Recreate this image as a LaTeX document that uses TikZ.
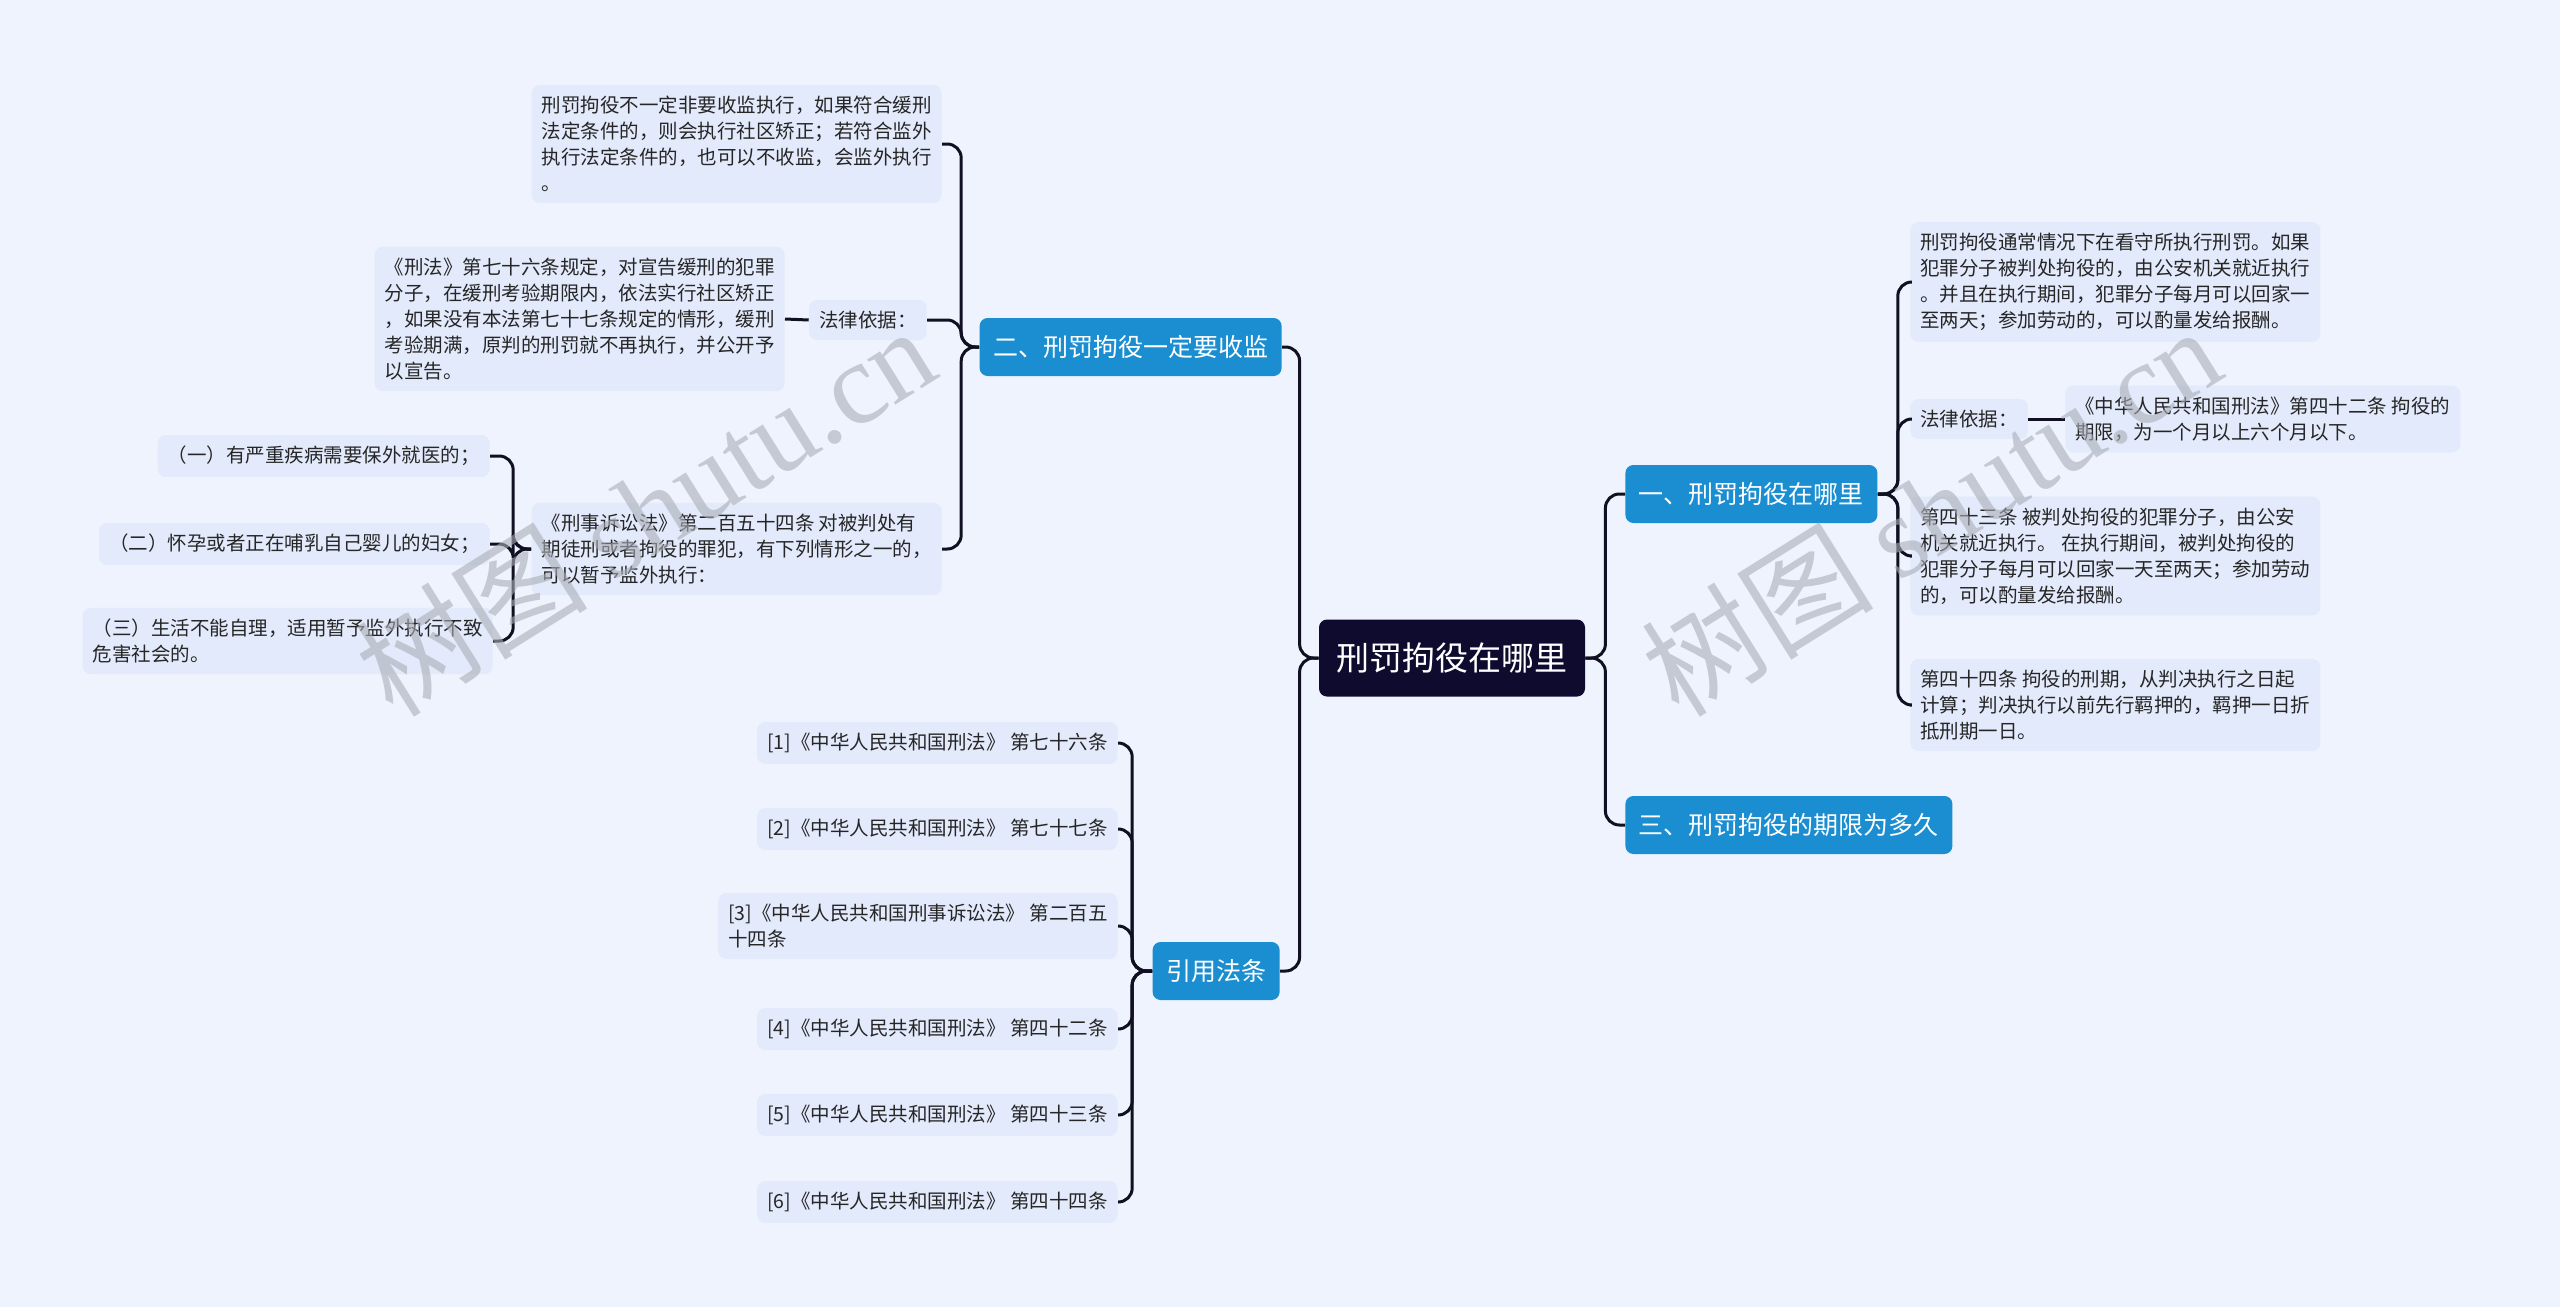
\documentclass[tikz,border=0pt]{standalone}
\usepackage{fontspec}
\setmainfont{Noto Sans CJK SC}
\newfontfamily\wmlatin{Liberation Serif}
\usetikzlibrary{positioning}
\definecolor{bgc}{RGB}{238,243,253}
\definecolor{leafc}{RGB}{226,234,251}
\definecolor{bluec}{RGB}{27,142,210}
\definecolor{rootc}{RGB}{14,11,46}
\definecolor{linec}{RGB}{16,16,34}
\definecolor{wmc}{RGB}{170,173,183}
\tikzset{
  leaf/.style={fill=leafc, rounded corners=4pt, align=left, inner xsep=5pt, inner ysep=5.5pt,
    font=\fontsize{9.75}{13}\selectfont, text=black!85},
  branch/.style={fill=bluec, rounded corners=4pt, text=white, inner xsep=6.75pt, minimum height=29pt,
    font=\fontsize{12.5}{15}\selectfont},
  rootnode/.style={fill=rootc, rounded corners=4pt, text=white, minimum width=133pt, minimum height=38.5pt,
    font=\fontsize{16.5}{19}\selectfont},
  conn/.style={draw=linec, line width=1.5pt, rounded corners=7pt},
  wm/.style={text=wmc, opacity=0.6, rotate=32, font=\fontsize{58}{58}\selectfont}
}
\begin{document}
\begin{tikzpicture}[x=0.5pt,y=-0.5pt]
\useasboundingbox (0,0) rectangle (2560,1307);
\fill[bgc] (0,0) rectangle (2560,1307);

% root
\node[rootnode] (root) at (1452,658) {刑罚拘役在哪里};

% branches
\node[branch, anchor=east] (n2) at (1282,347) {二、刑罚拘役一定要收监};
\node[branch, anchor=east] (ny) at (1280,971) {引用法条};
\node[branch, anchor=west] (n1) at (1625,494) {一、刑罚拘役在哪里};
\node[branch, anchor=west] (n3) at (1625,825) {三、刑罚拘役的期限为多久};

% right side children of n1
\node[leaf, anchor=west] (r1) at (1910,282) {刑罚拘役通常情况下在看守所执行刑罚。如果\\犯罪分子被判处拘役的，由公安机关就近执行\\。并且在执行期间，犯罪分子每月可以回家一\\至两天；参加劳动的，可以酌量发给报酬。};
\node[leaf, anchor=west] (r2) at (1910,419) {法律依据：};
\node[leaf, anchor=west] (r2a) at (2065,419) {《中华人民共和国刑法》第四十二条 拘役的\\期限，为一个月以上六个月以下。};
\node[leaf, anchor=west] (r3) at (1910,556) {第四十三条 被判处拘役的犯罪分子，由公安\\机关就近执行。 在执行期间，被判处拘役的\\犯罪分子每月可以回家一天至两天；参加劳动\\的，可以酌量发给报酬。};
\node[leaf, anchor=west] (r4) at (1910,705) {第四十四条 拘役的刑期，从判决执行之日起\\计算；判决执行以前先行羁押的，羁押一日折\\抵刑期一日。};

% left side children of n2
\node[leaf, anchor=east] (l1) at (942,144) {刑罚拘役不一定非要收监执行，如果符合缓刑\\法定条件的，则会执行社区矫正；若符合监外\\执行法定条件的，也可以不收监，会监外执行\\。};
\node[leaf, anchor=east] (l2) at (927,320) {法律依据：};
\node[leaf, anchor=east] (l2a) at (785,319) {《刑法》第七十六条规定，对宣告缓刑的犯罪\\分子，在缓刑考验期限内，依法实行社区矫正\\，如果没有本法第七十七条规定的情形，缓刑\\考验期满，原判的刑罚就不再执行，并公开予\\以宣告。};
\node[leaf, anchor=east] (l3) at (942,549) {《刑事诉讼法》第二百五十四条 对被判处有\\期徒刑或者拘役的罪犯，有下列情形之一的，\\可以暂予监外执行：};
\node[leaf, anchor=east] (l3a) at (490,456) {（一）有严重疾病需要保外就医的；};
\node[leaf, anchor=east] (l3b) at (490,544) {（二）怀孕或者正在哺乳自己婴儿的妇女；};
\node[leaf, anchor=east] (l3c) at (493,641) {（三）生活不能自理，适用暂予监外执行不致\\危害社会的。};

% children of 引用法条
\node[leaf, anchor=east] (c1) at (1118,743) {[1]《中华人民共和国刑法》 第七十六条};
\node[leaf, anchor=east] (c2) at (1118,829) {[2]《中华人民共和国刑法》 第七十七条};
\node[leaf, anchor=east] (c3) at (1118,926) {[3]《中华人民共和国刑事诉讼法》 第二百五\\十四条};
\node[leaf, anchor=east] (c4) at (1118,1029) {[4]《中华人民共和国刑法》 第四十二条};
\node[leaf, anchor=east] (c5) at (1118,1115) {[5]《中华人民共和国刑法》 第四十三条};
\node[leaf, anchor=east] (c6) at (1118,1202) {[6]《中华人民共和国刑法》 第四十四条};

% connectors: root
\draw[conn] (root.west) -- ++(-19,0) |- (n2.east);
\draw[conn] (root.west) -- ++(-19,0) |- (ny.east);
\draw[conn] (root.east) -- ++(20,0) |- (n1.west);
\draw[conn] (root.east) -- ++(20,0) |- (n3.west);

% n1 children
\foreach \c in {r1,r2,r3,r4}{
  \draw[conn] (n1.east) -- ++(20,0) |- (\c.west);
}
\draw[conn] (r2.east) -- (r2a.west);

% n2 children
\foreach \c in {l1,l2,l3}{
  \draw[conn] (n2.west) -- ++(-18,0) |- (\c.east);
}
\draw[conn] (l2.west) -- (l2a.east);
\foreach \c in {l3a,l3b,l3c}{
  \draw[conn] (l3.west) -- ++(-18,0) |- (\c.east);
}

% 引用法条 children
\foreach \c in {c1,c2,c3,c4,c5,c6}{
  \draw[conn] (ny.west) -- ++(-20,0) |- (\c.east);
}

% watermarks
\node[wm] (wm1) at (645,510) {树图 {\wmlatin shutu.cn}};
\node[wm] (wm2) at (1931,510) {树图 {\wmlatin shutu.cn}};
\end{tikzpicture}
\end{document}
